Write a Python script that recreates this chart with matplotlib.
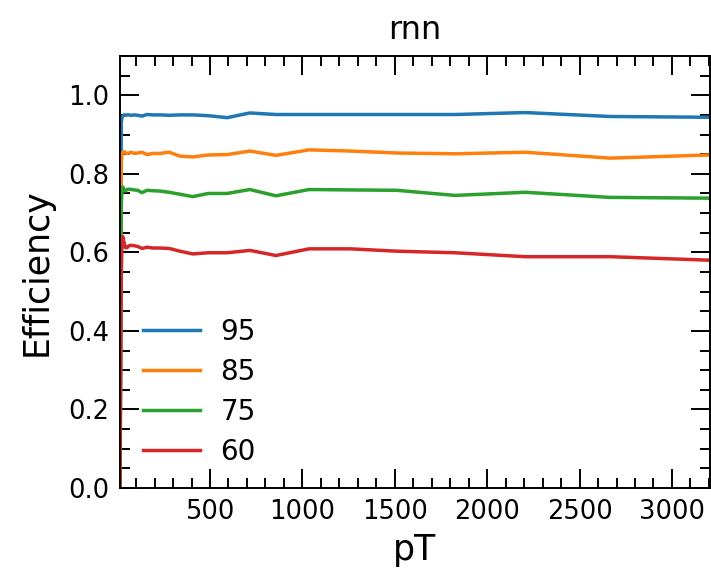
import matplotlib
matplotlib.use("Agg")
import matplotlib.pyplot as plt
from matplotlib.ticker import MultipleLocator

# pT bin positions
pt = [13, 17, 20, 24, 29, 35, 42, 51, 62, 75, 90, 109, 132, 159, 192,
      231, 279, 337, 407, 491, 593, 716, 857, 1036, 1258, 1512, 1826,
      2205, 2664, 3206]

eff_95 = [0.0, 0.60, 0.93, 0.945, 0.948, 0.950, 0.949, 0.950, 0.950, 0.949,
          0.950, 0.949, 0.947, 0.951, 0.950, 0.950, 0.949, 0.950, 0.950,
          0.948, 0.943, 0.955, 0.951, 0.951, 0.951, 0.951, 0.951, 0.956,
          0.946, 0.944]
eff_85 = [0.0, 0.50, 0.83, 0.850, 0.856, 0.856, 0.853, 0.852, 0.853, 0.855,
          0.852, 0.853, 0.855, 0.849, 0.852, 0.852, 0.855, 0.845, 0.843,
          0.848, 0.849, 0.858, 0.847, 0.861, 0.858, 0.853, 0.851, 0.855,
          0.840, 0.848]
eff_75 = [0.0, 0.45, 0.72, 0.760, 0.766, 0.758, 0.756, 0.760, 0.761, 0.760,
          0.759, 0.758, 0.752, 0.758, 0.757, 0.756, 0.753, 0.748, 0.742,
          0.750, 0.750, 0.760, 0.744, 0.760, 0.759, 0.758, 0.745, 0.753,
          0.740, 0.738]
eff_60 = [0.0, 0.30, 0.55, 0.630, 0.640, 0.625, 0.612, 0.612, 0.617, 0.618,
          0.617, 0.615, 0.610, 0.613, 0.611, 0.611, 0.610, 0.603, 0.596,
          0.599, 0.599, 0.605, 0.592, 0.609, 0.609, 0.603, 0.599, 0.589,
          0.589, 0.580]

labels = ["95", "85", "75", "60"]
series = [eff_95, eff_85, eff_75, eff_60]

fig = plt.figure(figsize=(7.11, 5.72), dpi=100)
ax = fig.add_axes([120 / 711, 84 / 572, 590 / 711, 432 / 572])

for lab, eff in zip(labels, series):
    ax.plot(pt, eff, lw=2.5, label=lab)

ax.set_xlim(pt[0], pt[-1])
ax.set_ylim(0, 1.1)
ax.xaxis.set_major_locator(MultipleLocator(500))
ax.xaxis.set_minor_locator(MultipleLocator(100))
ax.yaxis.set_major_locator(MultipleLocator(0.2))
ax.yaxis.set_minor_locator(MultipleLocator(0.05))
ax.tick_params(which="both", direction="in", top=True, right=True,
               width=1.4, labelsize=18.5, pad=8)
ax.tick_params(which="major", length=14)
ax.tick_params(which="minor", length=7)
for s in ax.spines.values():
    s.set_linewidth(1.4)

ax.set_xlabel("pT", fontsize=25, labelpad=6)
ax.set_ylabel("Efficiency", fontsize=25, labelpad=10)
ax.set_title("rnn", fontsize=23, pad=12)

ax.legend(loc="lower left", frameon=False, fontsize=20,
          handlelength=2.05, handletextpad=0.75, labelspacing=0.43,
          bbox_to_anchor=(-0.004, -0.006))

fig.savefig("out.png", dpi=100)
